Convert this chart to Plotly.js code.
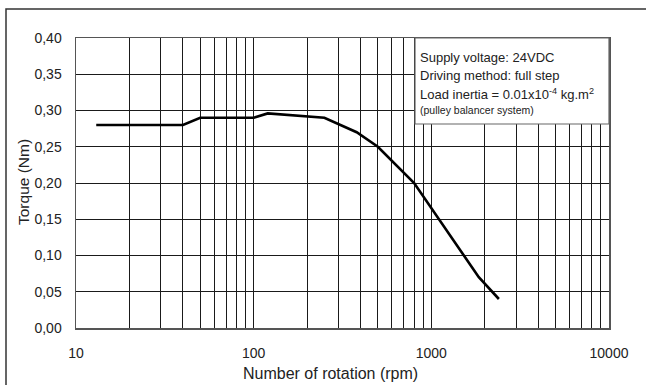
<!DOCTYPE html>
<html>
<head>
<meta charset="utf-8">
<script src="https://cdn.plot.ly/plotly-3.0.1.min.js"></script>
<style>html,body{margin:0;padding:0;background:#fff;}#chart{width:646px;height:385px;}</style>
</head>
<body>
<div id="chart"></div>
<script>
// Data
const speedRpm = [13, 40, 50, 100, 120, 250, 380, 500, 800, 1850, 2400];
const torqueNm = [0.28, 0.28, 0.29, 0.29, 0.296, 0.29, 0.27, 0.25, 0.20, 0.07, 0.04];

const xTickVals = [10, 100, 1000, 10000];
const xTickLabels = ['10', '100', '1000', '10000'];
const xMinorVals = [20,30,40,50,60,70,80,90,200,300,400,500,600,700,800,900,2000,3000,4000,5000,6000,7000,8000,9000];

const infoLines = [
  'Supply voltage: 24VDC',
  'Driving method: full step',
  'Load inertia = 0.01x10<sup>-4</sup> kg.m<sup>2</sup>'
];
const infoNote = '(pulley balancer system)';

const FONT = '"Liberation Sans", Arial, sans-serif';
const L = 76, R = 609, T = 38, B = 328, W = 646, H = 385;
const px = x => (x - L) / (R - L);
const py = y => (B - y) / (B - T);

const trace = {
  x: speedRpm, y: torqueNm, type: 'scatter', mode: 'lines',
  line: {color: '#000', width: 2.6},
  hoverinfo: 'skip'
};

const annotations = infoLines.map((t, i) => ({
  xref: 'paper', yref: 'paper', x: px(418), y: py([57, 75.5, 94][i]),
  xanchor: 'left', yanchor: 'middle', text: t, showarrow: false,
  font: {family: FONT, size: 13, color: '#222'}
}));
annotations.push({
  xref: 'paper', yref: 'paper', x: px(418), y: py(109.5),
  xanchor: 'left', yanchor: 'middle', text: infoNote, showarrow: false,
  font: {family: FONT, size: 10.5, color: '#222'}
});
annotations.push({
  xref: 'paper', yref: 'paper', x: px(330), y: py(373),
  xanchor: 'center', yanchor: 'middle', text: 'Number of rotation (rpm)', showarrow: false,
  font: {family: FONT, size: 16, color: '#222'}
});
annotations.push({
  xref: 'paper', yref: 'paper', x: px(23), y: py(182),
  xanchor: 'center', yanchor: 'middle', text: 'Torque (Nm)', showarrow: false, textangle: -90,
  font: {family: FONT, size: 15.5, color: '#222'}
});

const layout = {
  width: W, height: H,
  margin: {l: L, r: W - R, t: T, b: H - B, pad: 0},
  paper_bgcolor: '#fff', plot_bgcolor: '#fff',
  separators: ',.',
  showlegend: false,
  font: {family: FONT, size: 14, color: '#222'},
  xaxis: {
    type: 'log', range: [1, 4],
    tickmode: 'array', tickvals: xTickVals, ticktext: xTickLabels,
    showgrid: true, gridcolor: '#1a1a1a', gridwidth: 1,
    minor: {tickmode: 'array', tickvals: xMinorVals, showgrid: true, gridcolor: '#1a1a1a', gridwidth: 1, ticks: ''},
    showline: true, linecolor: '#555', linewidth: 1.5, mirror: true,
    ticks: '', ticklabelstandoff: 12, zeroline: false,
    tickfont: {family: FONT, size: 14, color: '#222'}
  },
  yaxis: {
    range: [0, 0.4], dtick: 0.05, tick0: 0, tickformat: '.2f',
    showgrid: true, gridcolor: '#1a1a1a', gridwidth: 1,
    showline: true, linecolor: '#555', linewidth: 1.5, mirror: true,
    ticks: '', ticklabelstandoff: 10, zeroline: false,
    tickfont: {family: FONT, size: 14, color: '#222'}
  },
  shapes: [
    {type: 'rect', xref: 'paper', yref: 'paper', x0: px(415), x1: 1, y0: py(124), y1: 1,
     fillcolor: '#fff', line: {color: '#666', width: 1.2}, layer: 'above'},
    {type: 'rect', xref: 'paper', yref: 'paper', x0: px(6), x1: px(700), y0: py(420), y1: py(9),
     fillcolor: 'rgba(0,0,0,0)', line: {color: '#333', width: 1.5}, layer: 'above'}
  ],
  annotations: annotations
};

Plotly.newPlot('chart', [trace], layout, {displayModeBar: false, staticPlot: true});
</script>
</body>
</html>
